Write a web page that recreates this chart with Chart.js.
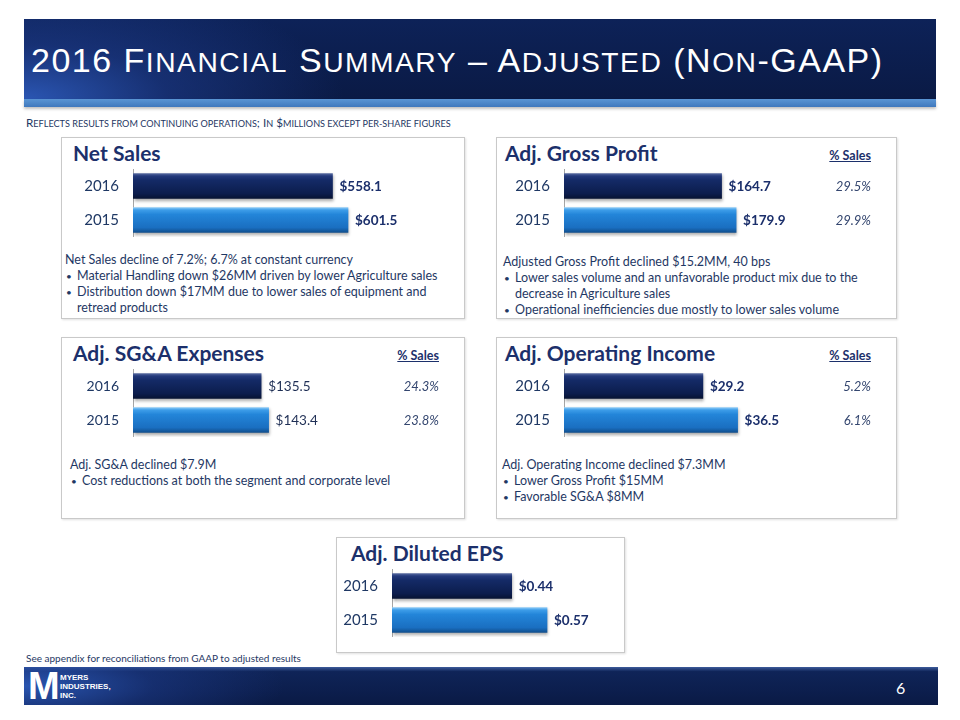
<!DOCTYPE html>
<html>
<head>
<meta charset="utf-8">
<script src="https://cdn.jsdelivr.net/npm/chart.js@4.4.1/dist/chart.umd.min.js"></script>
<style>
  html, body { margin: 0; padding: 0; background: #fff; }
  #slide { position: relative; width: 960px; height: 720px; overflow: hidden; font-family: Lato, "Open Sans", sans-serif; color: #1f3864; }
  .abs { position: absolute; }
  #banner { left: 24px; top: 19px; width: 912px; height: 80px;
    background: radial-gradient(ellipse 320px 120px at 0% 100%, #2b56b3 0%, rgba(30,60,140,0.6) 45%, rgba(11,29,74,0) 100%),
                linear-gradient(180deg, #0d2258 0%, #0a1a45 100%); }
  #strip { left: 24px; top: 99px; width: 912px; height: 8px; background: linear-gradient(180deg, #5a95d4, #3f78bd); box-shadow: 0 2px 3px rgba(0,0,0,0.25); }
  #title { left: 31px; top: 41px; color: #fff; font-family: "Liberation Sans", Arial, sans-serif; font-size: 34px; line-height: 38px; letter-spacing: 1.5px; white-space: nowrap; }
  #title .sc { font-size: 0.83em; }
  #subtitle { left: 26px; top: 115px; font-size: 11.7px; color: #1f3864; white-space: nowrap; }
  #subtitle .sc { font-size: 0.78em; }
  .panel { border: 1px solid #c9c9c9; box-shadow: 1px 1px 2px rgba(0,0,0,0.12); background: #fff; }
  .ptitle { font-weight: bold; font-size: 21px; color: #1c306b; white-space: nowrap; }
  .pct-head { font-weight: bold; font-size: 12.5px; text-decoration: underline; color: #1c306b; text-align: right; width: 60px; }
  .body { font-size: 12.5px; line-height: 16px; color: #1f3864; }
  .body ul { margin: 0; padding: 0; list-style: none; }
  .body li { position: relative; padding-left: 12px; }
  .body li::before { content: "\2022"; position: absolute; left: 1px; top: 0; font-size: 10px; }
  .cw { position: absolute; }
  #note { left: 26px; top: 652px; font-size: 10px; color: #1f3864; white-space: nowrap; }
  #footer { left: 24px; top: 667px; width: 914px; height: 38px;
    background: radial-gradient(ellipse 260px 60px at 0% 50%, #2a55b0 0%, rgba(30,60,140,0.5) 50%, rgba(11,29,74,0) 100%),
                linear-gradient(180deg, #3d5c9c 0%, #0f2458 12%, #0a1a45 100%); }
  #logoM { left: 28px; top: 667px; color: #fff; font-family: "Liberation Sans", Arial, sans-serif; font-weight: bold; font-size: 38px; line-height: 38px; }
  #logoText { left: 60px; top: 673px; color: #fff; font-family: "Liberation Sans", Arial, sans-serif; font-weight: bold; font-size: 8px; line-height: 9px; }
  #page { left: 896px; top: 678px; color: #fff; font-size: 16px; }
</style>
</head>
<body>
<div id="slide">
  <div id="banner" class="abs"></div>
  <div id="strip" class="abs"></div>
  <div id="title" class="abs">2016 F<span class="sc">INANCIAL</span> S<span class="sc">UMMARY</span> – A<span class="sc">DJUSTED</span> (N<span class="sc">ON</span>-GAAP)</div>
  <div id="subtitle" class="abs">R<span class="sc">EFLECTS RESULTS FROM CONTINUING OPERATIONS</span>; I<span class="sc">N</span> $<span class="sc">MILLIONS EXCEPT PER-SHARE FIGURES</span></div>

  <div class="abs panel" style="left:61px; top:137px; width:402px; height:180px;"></div>
  <div class="abs panel" style="left:496px; top:137px; width:399px; height:180px;"></div>
  <div class="abs panel" style="left:61px; top:337px; width:402px; height:180px;"></div>
  <div class="abs panel" style="left:496px; top:337px; width:399px; height:180px;"></div>
  <div class="abs panel" style="left:336px; top:537px; width:287px; height:114px;"></div>

  <div class="abs ptitle" style="left:73px; top:140px;">Net Sales</div>
  <div class="abs ptitle" style="left:505px; top:140px;">Adj. Gross Profit</div>
  <div class="abs ptitle" style="left:73px; top:340px;">Adj. SG&amp;A Expenses</div>
  <div class="abs ptitle" style="left:505px; top:340px;">Adj. Operating Income</div>
  <div class="abs ptitle" style="left:351px; top:540px;">Adj. Diluted EPS</div>

  <div class="abs pct-head" style="left:811px; top:148px;">% Sales</div>
  <div class="abs pct-head" style="left:379px; top:348px;">% Sales</div>
  <div class="abs pct-head" style="left:811px; top:348px;">% Sales</div>

  <div class="abs body" style="left:65px; top:252px; width:395px;">
    Net Sales decline of 7.2%; 6.7% at constant currency
    <ul>
      <li>Material Handling down $26MM driven by lower Agriculture sales</li>
      <li>Distribution down $17MM due to lower sales of equipment and retread products</li>
    </ul>
  </div>
  <div class="abs body" style="left:503px; top:254px; width:385px;">
    Adjusted Gross Profit declined $15.2MM, 40 bps
    <ul>
      <li>Lower sales volume and an unfavorable product mix due to the decrease in Agriculture sales</li>
      <li>Operational inefficiencies due mostly to lower sales volume</li>
    </ul>
  </div>
  <div class="abs body" style="left:70px; top:457px; width:390px;">
    Adj. SG&amp;A declined $7.9M
    <ul>
      <li>Cost reductions at both the segment and corporate level</li>
    </ul>
  </div>
  <div class="abs body" style="left:502px; top:457px; width:385px;">
    Adj. Operating Income declined $7.3MM
    <ul>
      <li>Lower Gross Profit $15MM</li>
      <li>Favorable SG&amp;A $8MM</li>
    </ul>
  </div>

  <div class="cw" style="left:61px; top:169px; width:403px; height:68px;"><canvas id="c1"></canvas></div>
  <div class="cw" style="left:496px; top:169px; width:400px; height:68px;"><canvas id="c2"></canvas></div>
  <div class="cw" style="left:61px; top:369px; width:403px; height:68px;"><canvas id="c3"></canvas></div>
  <div class="cw" style="left:496px; top:369px; width:400px; height:68px;"><canvas id="c4"></canvas></div>
  <div class="cw" style="left:336px; top:569px; width:288px; height:68px;"><canvas id="c5"></canvas></div>

  <div id="note" class="abs">See appendix for reconciliations from GAAP to adjusted results</div>
  <div id="footer" class="abs"></div>
  <div id="logoM" class="abs">M</div>
  <div id="logoText" class="abs">MYERS<br>INDUSTRIES,<br>INC.</div>
  <div id="page" class="abs">6</div>
</div>

<script>
'use strict'

// 年度（上が2016）
const years = ['2016', '2015'];

// 各指標（$MM、EPSのみ1株あたり）
const netSales = [558.1, 601.5];
const grossProfit = [164.7, 179.9];
const sgaExpenses = [135.5, 143.4];
const operatingIncome = [29.2, 36.5];
const dilutedEps = [0.44, 0.57];

// 売上比
const grossPct = ['29.5%', '29.9%'];
const sgaPct = ['24.3%', '23.8%'];
const operatingPct = ['5.2%', '6.1%'];

const FONT = 'Lato, "Open Sans", sans-serif';

// バーのグラデーション（立体っぽく）
const barStops = [
  [[0, '#56699f'], [0.1, '#243a7c'], [0.28, '#142a66'], [0.8, '#0c1d4d'], [1, '#071333']],
  [[0, '#8ccaf7'], [0.1, '#3d9de9'], [0.28, '#2385d9'], [0.8, '#1a6fc1'], [1, '#114f8e']]
];
const barSolid = ['#112560', '#1f7ccf'];

function barFill(c) {
  const chart = c.chart;
  const ys = chart.scales && chart.scales.y;
  if (!ys || ys.top === undefined || ys.bottom === ys.top) return barSolid[c.dataIndex];
  const mid = ys.getPixelForValue(c.dataIndex);
  const g = chart.ctx.createLinearGradient(0, mid - 12.5, 0, mid + 12.5);
  barStops[c.dataIndex].forEach(s => g.addColorStop(s[0], s[1]));
  return g;
}

// 値ラベルと売上比を描く
const labelPlugin = {
  id: 'labels',
  beforeDatasetsDraw(chart) {
    const ctx = chart.ctx;
    ctx.save();
    ctx.shadowColor = 'rgba(0,0,0,0.35)';
    ctx.shadowBlur = 3;
    ctx.shadowOffsetX = 1;
    ctx.shadowOffsetY = 2;
  },
  afterDatasetsDraw(chart) {
    const ctx = chart.ctx;
    ctx.restore();
    const o = chart.options.plugins.labels;
    const meta = chart.getDatasetMeta(0);
    ctx.save();
    ctx.textBaseline = 'middle';
    meta.data.forEach((bar, i) => {
      const v = chart.data.datasets[0].data[i];
      ctx.font = (o.bold ? 'bold ' : '') + '13.5px ' + FONT;
      ctx.fillStyle = o.bold ? '#1b2f6b' : '#1f2f55';
      ctx.textAlign = 'left';
      ctx.fillText('$' + v.toFixed(o.digits), bar.x + 7, bar.y + 1);
      if (o.pct) {
        ctx.font = 'italic 13px ' + FONT;
        ctx.fillStyle = '#34466f';
        ctx.textAlign = 'right';
        ctx.fillText(o.pct[i], o.pctRight, bar.y + 1);
      }
    });
    ctx.restore();
  }
};

function makeChart(id, values, xMax, axisWidth, fontSize, labelOpts) {
  return new Chart(document.getElementById(id), {
    type: 'bar',
    data: {
      labels: years,
      datasets: [{
        data: values,
        backgroundColor: barFill,
        borderWidth: 0,
        barThickness: 25
      }]
    },
    options: {
      indexAxis: 'y',
      responsive: true,
      maintainAspectRatio: false,
      animation: false,
      layout: { padding: 0 },
      plugins: {
        legend: { display: false },
        tooltip: { enabled: false },
        labels: labelOpts
      },
      scales: {
        x: { display: false, min: 0, max: xMax },
        y: {
          grid: { display: false, drawTicks: false },
          border: { color: '#a6a6a6', width: 1 },
          ticks: { padding: 14, color: '#1f3864', font: { family: FONT, size: fontSize } },
          // 軸幅を固定し、ラベル分の上下余白を消す
          afterFit: s => { s.width = axisWidth; s.paddingTop = 0; s.paddingBottom = 0; }
        }
      }
    },
    plugins: [labelPlugin]
  });
}

makeChart('c1', netSales, 926, 72, 15, { bold: true, digits: 1 });
makeChart('c2', grossProfit, 347, 68, 15, { bold: true, digits: 1, pct: grossPct, pctRight: 375 });
makeChart('c3', sgaExpenses, 350, 72, 14, { bold: false, digits: 1, pct: sgaPct, pctRight: 378 });
makeChart('c4', operatingIncome, 69.8, 68, 15, { bold: true, digits: 1, pct: operatingPct, pctRight: 375 });
makeChart('c5', dilutedEps, 0.853, 56, 15, { bold: true, digits: 2 });
</script>
</body>
</html>
